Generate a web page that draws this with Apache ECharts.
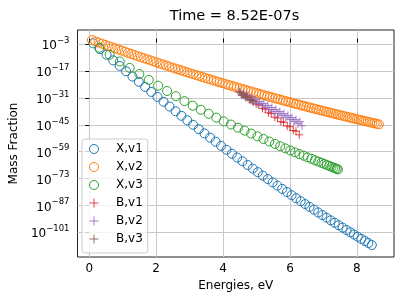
<!DOCTYPE html>
<html><head><meta charset="utf-8">
<script src="https://cdn.jsdelivr.net/npm/echarts@6/dist/echarts.min.js"></script>
<style>html,body{margin:0;padding:0;background:#fff}#c{width:407px;height:305px}</style>
</head><body><div id="c"></div>
<script>
// Energies (eV) and log10(mass fraction)
const energiesXv1 = [0.12,0.32,0.518,0.715,0.909,1.102,1.293,1.482,1.67,1.855,2.039,2.221,2.401,2.58,2.756,2.931,3.104,3.275,3.445,3.612,3.778,3.942,4.104,4.265,4.423,4.58,4.735,4.888,5.04,5.189,5.337,5.483,5.627,5.77,5.91,6.049,6.186,6.321,6.455,6.586,6.716,6.844,6.97,7.095,7.217,7.338,7.457,7.574,7.69,7.803,7.915,8.025,8.133,8.24,8.344,8.447];
const logMassXv1 = [-2.50,-5.51,-8.47,-11.39,-14.25,-17.07,-19.83,-22.55,-25.23,-27.84,-30.43,-32.96,-35.45,-37.90,-40.29,-42.65,-44.97,-47.24,-49.48,-51.67,-53.82,-55.94,-58.01,-60.05,-62.04,-64.00,-65.93,-67.81,-69.67,-71.48,-73.26,-75.00,-76.71,-78.40,-80.03,-81.65,-83.23,-84.77,-86.30,-87.77,-89.23,-90.66,-92.05,-93.42,-94.75,-96.06,-97.34,-98.60,-99.83,-101.02,-102.19,-103.34,-104.46,-105.56,-106.62,-107.67];

const energiesXv2 = [0.08,0.18,0.28,0.379,0.478,0.577,0.675,0.773,0.87,0.968,1.065,1.161,1.258,1.353,1.449,1.544,1.639,1.734,1.828,1.922,2.015,2.109,2.201,2.294,2.386,2.478,2.57,2.661,2.751,2.842,2.932,3.022,3.111,3.2,3.289,3.378,3.466,3.554,3.641,3.728,3.815,3.901,3.987,4.073,4.158,4.243,4.328,4.413,4.497,4.58,4.663,4.747,4.829,4.912,4.994,5.075,5.156,5.237,5.318,5.398,5.478,5.558,5.637,5.716,5.795,5.873,5.951,6.028,6.106,6.182,6.259,6.335,6.411,6.487,6.562,6.637,6.711,6.785,6.859,6.932,7.006,7.078,7.151,7.223,7.295,7.366,7.437,7.508,7.578,7.649,7.718,7.788,7.857,7.926,7.994,8.062,8.13,8.197,8.264,8.331,8.397,8.463,8.529,8.594,8.659];
const logMassXv2 = [-0.80,-1.43,-2.05,-2.67,-3.28,-3.89,-4.49,-5.09,-5.68,-6.27,-6.86,-7.43,-8.01,-8.58,-9.15,-9.71,-10.26,-10.82,-11.37,-11.91,-12.45,-12.99,-13.51,-14.04,-14.56,-15.08,-15.60,-16.11,-16.61,-17.11,-17.61,-18.11,-18.59,-19.08,-19.56,-20.04,-20.51,-20.99,-21.45,-21.91,-22.37,-22.82,-23.27,-23.72,-24.16,-24.60,-25.04,-25.47,-25.90,-26.32,-26.74,-27.16,-27.57,-27.99,-28.40,-28.80,-29.19,-29.59,-29.99,-30.37,-30.76,-31.14,-31.52,-31.90,-32.28,-32.64,-33.01,-33.37,-33.73,-34.09,-34.44,-34.79,-35.14,-35.49,-35.83,-36.17,-36.50,-36.83,-37.16,-37.48,-37.81,-38.13,-38.45,-38.76,-39.07,-39.38,-39.69,-39.99,-40.29,-40.59,-40.88,-41.18,-41.47,-41.75,-42.04,-42.32,-42.60,-42.87,-43.14,-43.42,-43.68,-43.95,-44.21,-44.47,-44.73];

const energiesXv3 = [0.3,0.61,0.913,1.21,1.499,1.782,2.058,2.327,2.59,2.845,3.094,3.336,3.571,3.80,4.021,4.236,4.444,4.645,4.84,5.027,5.208,5.382,5.549,5.71,5.863,6.01,6.15,6.283,6.41,6.529,6.642,6.748,6.847,6.94,7.025,7.104,7.176,7.241,7.30,7.351,7.396,7.434];
const logMassXv3 = [-4.80,-8.43,-11.98,-15.31,-18.49,-21.60,-24.59,-27.34,-30.02,-32.62,-35.03,-37.16,-39.22,-41.24,-43.16,-44.84,-46.46,-48.03,-49.55,-51.00,-52.36,-53.67,-54.92,-56.13,-57.27,-58.37,-59.34,-60.25,-61.13,-61.95,-62.73,-63.46,-64.14,-64.79,-65.38,-65.93,-66.43,-66.89,-67.30,-67.66,-67.97,-68.24];

const energiesBv1 = [4.62,4.70,4.81,4.89,4.99,5.07,5.18,5.26,5.36,5.44,5.55,5.63,5.73,5.81,5.92,6.00,6.10,6.18,6.28];
const logMassBv1 = [-29.5,-29.9,-31.8,-32.2,-34.1,-34.5,-36.4,-36.8,-38.7,-39.1,-41.0,-41.4,-43.3,-43.7,-45.6,-46.0,-47.9,-48.3,-50.2];

const energiesBv2 = [4.50,4.56,4.62,4.68,4.74,4.80,4.86,4.92,4.98,5.04,5.10,5.16,5.22,5.28,5.34,5.40,5.46,5.52,5.58,5.64,5.70,5.76,5.82,5.88,5.94,6.00,6.06,6.12,6.18,6.24,6.30,6.36];
const logMassBv2 = [-27.5,-29.63,-28.56,-30.68,-29.61,-31.74,-30.67,-32.8,-31.72,-33.85,-32.78,-34.91,-33.84,-35.96,-34.89,-37.02,-35.95,-38.08,-37.0,-39.13,-38.06,-40.19,-39.12,-41.24,-40.17,-42.3,-41.23,-43.36,-42.28,-44.41,-43.34,-45.47];

const energiesBv3 = [4.48,4.54,4.60,4.66,4.72,4.78,4.84,4.90];
const logMassBv3 = [-28.0,-28.9,-29.4,-30.3,-30.8,-31.7,-32.2,-33.1];

const seriesNames = ['X,v1','X,v2','X,v3','B,v1','B,v2','B,v3'];
const seriesColors = ['#1f77b4','#ff7f0e','#2ca02c','#d62728','#9467bd','#8c564b'];
const xTickValues = [0,2,4,6,8];
const yTickExponents = [-101,-87,-73,-59,-45,-31,-17,-3];
const titleText = 'Time = 8.52E-07s';
const xAxisTitle = 'Energies, eV';
const yAxisTitle = 'Mass Fraction';

const FONT = 'DejaVu Sans';
const PLUS = 'path://M0,5H10M5,0V10';
function pairs(xs, ys) { return xs.map((x, i) => [x, ys[i]]); }

const allE = [energiesXv1, energiesXv2, energiesXv3, energiesBv1, energiesBv2, energiesBv3];
const allY = [logMassXv1, logMassXv2, logMassXv3, logMassBv1, logMassBv2, logMassBv3];

const series = seriesNames.map((name, i) => {
  const isCircle = i < 3;
  return {
    name: name,
    type: 'scatter',
    data: pairs(allE[i], allY[i]),
    symbol: isCircle ? 'circle' : PLUS,
    symbolSize: isCircle ? 9 : 8,
    itemStyle: {
      color: 'rgba(0,0,0,0)',
      borderColor: seriesColors[i],
      borderWidth: 1,
      opacity: isCircle ? 1 : 0.85
    },
    emphasis: { disabled: true },
    z: 2 + i * 0.01
  };
});

const legendData = seriesNames.map((name, i) => ({
  name: name,
  icon: i < 3 ? 'circle' : PLUS,
  itemStyle: { color: 'rgba(0,0,0,0)', borderColor: seriesColors[i], borderWidth: 1 }
}));

const chart = echarts.init(document.getElementById('c'), null, { renderer: 'canvas' });
chart.setOption({
  animation: false,
  backgroundColor: '#fff',
  textStyle: { fontFamily: FONT },
  title: {
    text: titleText,
    left: 234.5,
    textAlign: 'center',
    top: 9,
    padding: 0,
    textStyle: { fontFamily: FONT, fontSize: 14.5, fontWeight: 'normal', color: '#000' }
  },
  grid: {
    left: 75, top: 30, right: 13, bottom: 48,
    show: true, borderColor: '#222', borderWidth: 1, backgroundColor: 'transparent'
  },
  legend: {
    orient: 'vertical',
    left: 82, top: 139,
    padding: [3, 5, 7, 7],
    itemGap: 4,
    itemWidth: 20, itemHeight: 9,
    backgroundColor: 'rgba(255,255,255,0.8)',
    borderColor: '#cccccc', borderWidth: 1, borderRadius: 3,
    itemStyle: { borderWidth: 1 },
    textStyle: { fontFamily: FONT, fontSize: 12, color: '#000', lineHeight: 14, padding: [0, 0, 0, 7] },
    data: legendData
  },
  xAxis: {
    type: 'value',
    min: -0.35, max: 9.11,
    name: xAxisTitle, nameLocation: 'middle', nameGap: 23,
    nameTextStyle: { fontFamily: FONT, fontSize: 12, color: '#000' },
    axisLine: { show: false },
    axisTick: { show: true, length: 4, customValues: xTickValues, lineStyle: { color: '#000', width: 1 } },
    axisLabel: { customValues: xTickValues, margin: 6, fontFamily: FONT, fontSize: 12, color: '#000', formatter: v => String(v) },
    splitLine: { show: true, lineStyle: { color: '#c8c8c8', width: 1 } }
  },
  yAxis: {
    type: 'value',
    min: -113.9, max: 4.45,
    name: yAxisTitle, nameLocation: 'middle', nameGap: 44,
    nameTextStyle: { fontFamily: FONT, fontSize: 12, color: '#000' },
    axisLine: { show: false },
    axisTick: { show: true, length: 4, customValues: yTickExponents, lineStyle: { color: '#000', width: 1 } },
    axisLabel: {
      customValues: yTickExponents, margin: 8, color: '#000',
      formatter: v => {
        const t = yTickExponents.find(e => Math.abs(e - v) < 1e-6);
        return t === undefined ? '' : '{b|10}{s|\u2212' + Math.abs(t) + '}';
      },
      rich: {
        b: { fontFamily: FONT, fontSize: 12, color: '#000', lineHeight: 16, verticalAlign: 'bottom' },
        s: { fontFamily: FONT, fontSize: 8.5, color: '#000', lineHeight: 12, verticalAlign: 'top' }
      }
    },
    splitLine: { show: true, lineStyle: { color: '#c8c8c8', width: 1 } }
  },
  series: series
});
</script>
</body></html>
